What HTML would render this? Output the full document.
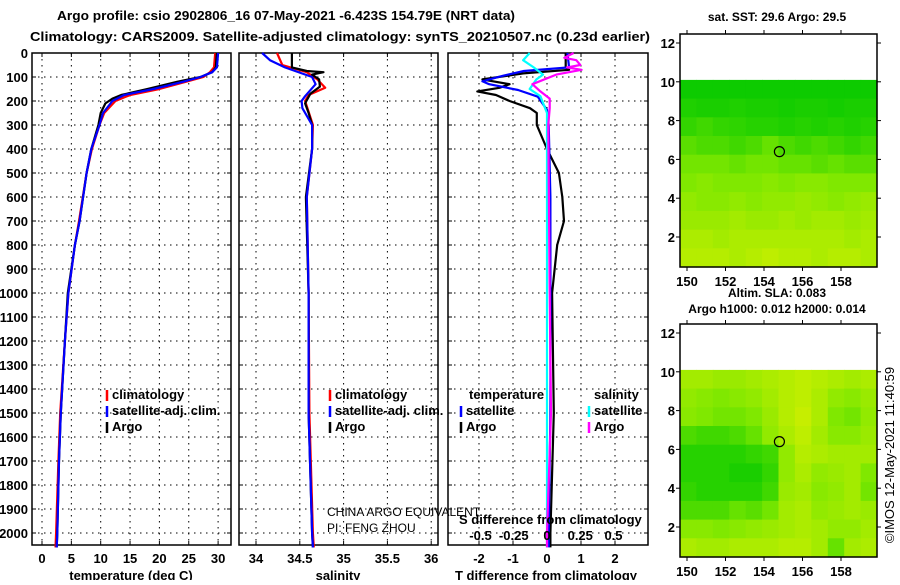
<!DOCTYPE html>
<html><head><meta charset="utf-8"><style>
body{margin:0;background:#fff;width:900px;height:580px;overflow:hidden}
svg{font-family:"Liberation Sans",sans-serif}
.b{font-weight:bold;font-size:13px}
</style></head><body>
<svg id="s" width="900" height="580" xmlns="http://www.w3.org/2000/svg">
<text class="b" x="57" y="20" font-size="15" textLength="458" lengthAdjust="spacingAndGlyphs">Argo profile: csio 2902806_16 07-May-2021 -6.423S 154.79E (NRT data)</text>
<text class="b" x="30" y="41" font-size="15" textLength="620" lengthAdjust="spacingAndGlyphs">Climatology: CARS2009. Satellite-adjusted climatology: synTS_20210507.nc (0.23d earlier)</text>
<g id="g"></g>
</svg>
<script>
// ---- data ----
const depthTicks=[0,100,200,300,400,500,600,700,800,900,1000,1100,1200,1300,1400,1500,1600,1700,1800,1900,2000];
const tempTicks=[0,5,10,15,20,25,30];
const salTicks=[34,34.5,35,35.5,36];
const salTickLabels=["34","34.5","35","35.5","36"];
const tdiffTicks=[-2,-1,0,1,2];
const sdiffTicks=[-0.5,-0.25,0,0.25,0.5];
const sdiffLabels=["-0.5","-0.25","0","0.25","0.5"];
const tArgoD=[0,60,80,100,120,150,175,190,210,250,300,400,500,700,800,1000,1200,1500,1700,2000,2060];
const tArgoV=[29.8,29.6,29,27,23,18,13.5,12,10.8,10,9.6,8.4,7.6,6.4,5.6,4.4,3.9,3.2,2.9,2.6,2.5];
const tClimD=[0,60,80,100,120,150,175,200,250,300,400,500,700,800,1000,1200,1500,1700,2000,2060];
const tClimV=[29.5,29.3,28.6,27.5,24.5,20,15,12.5,10.6,9.8,8.5,7.6,6.3,5.6,4.5,3.9,3.1,2.8,2.4,2.3];
const tSatD=[0,60,80,100,120,150,175,200,250,300,400,500,700,800,1000,1200,1500,1700,2000,2060];
const tSatV=[30,29.8,29,27,24,19,14,12,10.4,9.8,8.4,7.6,6.4,5.6,4.5,3.9,3.2,2.9,2.6,2.5];
const sArgoD=[0,60,75,80,90,110,140,170,210,250,300,400,600,1000,1500,2000,2060];
const sArgoV=[34.41,34.41,34.58,34.77,34.64,34.72,34.73,34.62,34.56,34.6,34.64,34.64,34.57,34.6,34.6,34.64,34.65];
const sClimD=[0,50,80,110,145,175,200,300,400,600,1000,1500,2000,2060];
const sClimV=[34.24,34.3,34.58,34.7,34.79,34.6,34.56,34.65,34.64,34.58,34.6,34.61,34.65,34.66];
const sSatD=[0,30,60,100,130,180,200,230,300,400,600,1000,1500,2000,2060];
const sSatV=[34.07,34.16,34.33,34.64,34.68,34.56,34.52,34.53,34.64,34.64,34.58,34.6,34.6,34.64,34.65];
const dtArgoD=[0,60,70,85,110,130,145,160,175,200,230,250,300,350,400,500,600,700,800,1000,1500,2000,2060];
const dtArgoV=[0.55,0.55,0.65,-0.7,-1.9,-1.1,-1.4,-2.05,-1.5,-1.1,-0.5,-0.3,-0.3,-0.15,0,0.35,0.45,0.5,0.3,0.15,0.2,0.1,0.1];
const dtSatD=[0,60,75,95,118,130,154,182,237,300,600,1000,1500,2000,2060];
const dtSatV=[0.6,0.65,-0.68,-1.3,-1.9,-1.7,-0.85,-0.27,0,0.05,0.1,0.1,0.1,0.05,0.05];
const dsSatD=[0,30,60,90,110,150,180,250,600,1000,1500,2000,2060];
const dsSatV=[-0.13,-0.18,-0.1,-0.03,-0.08,-0.13,-0.05,0,0,0,0,0,0];
const dsArgoD=[0,20,30,50,60,70,90,130,160,190,230,300,1000,1500,2000,2060];
const dsArgoV=[0.2,0.13,0.22,0.25,0.15,0.26,0.07,-0.11,-0.05,0.02,0.02,0.01,0.02,0.03,0,0];
const latTicks=[2,4,6,8,10,12];
const lonTicks=[150,152,154,156,158];
const sstGrid=[
[.05,.05,.05,.05,.05,.05,.05,.05,.05,.05,.05,.05],
[.12,.1,.1,.12,.1,.1,.08,.1,.1,.08,.1,.1],
[.2,.25,.2,.18,.15,.15,.12,.15,.12,.15,.12,.15],
[.35,.3,.3,.25,.3,.4,.3,.25,.3,.25,.2,.25],
[.45,.45,.45,.4,.45,.45,.4,.4,.35,.4,.35,.35],
[.5,.55,.5,.5,.5,.55,.5,.55,.55,.5,.5,.5],
[.6,.55,.55,.6,.55,.6,.6,.65,.6,.55,.6,.65],
[.65,.65,.65,.7,.65,.65,.7,.65,.7,.7,.65,.7],
[.75,.75,.7,.75,.75,.75,.75,.75,.75,.75,.7,.75],
[.8,.8,.8,.75,.8,.85,.8,.8,.75,.8,.8,.75]];
const slaGrid=[
[.7,.7,.65,.65,.7,.75,.8,.85,.8,.75,.7,.75],
[.6,.55,.5,.55,.6,.7,.8,.85,.75,.6,.55,.65],
[.55,.5,.45,.45,.5,.65,.8,.9,.75,.5,.45,.6],
[.3,.25,.25,.3,.4,.6,.75,.85,.7,.55,.55,.65],
[.15,.15,.15,.15,.2,.25,.6,.8,.75,.7,.7,.7],
[.15,.15,.15,.1,.1,.2,.6,.75,.6,.65,.7,.5],
[.2,.15,.15,.15,.15,.25,.65,.7,.55,.6,.7,.45],
[.3,.3,.3,.4,.35,.45,.7,.75,.6,.65,.7,.65],
[.55,.55,.5,.55,.6,.65,.7,.75,.7,.6,.6,.7],
[.75,.7,.7,.75,.75,.75,.8,.8,.7,.4,.7,.75]];
const argoLon=154.8, argoLat=6.4;

// ---- helpers ----
const NS="http://www.w3.org/2000/svg", G=document.getElementById('g');
function mk(tag,at,parent){const e=document.createElementNS(NS,tag);for(const k in at)e.setAttribute(k,at[k]);(parent||G).appendChild(e);return e;}
function txt(x,y,s,cls,anchor,size,weight){const e=mk('text',{x:x,y:y,'text-anchor':anchor||'start','font-size':size||13,'font-weight':weight||'bold'});e.textContent=s;return e;}
const TOP=53, PB=545;
const yD=d=>TOP+d*0.24;
function panel(name,x0,x1,xs,ticks,labels,grid){
  const r=mk('rect',{x:x0,y:TOP,width:x1-x0,height:PB-TOP,fill:'none',stroke:'#000','stroke-width':1.5});
  
  
  ticks.forEach((t,i)=>{const x=xs(t);
    if(grid)mk('line',{x1:x,x2:x,y1:TOP,y2:PB,stroke:'#000','stroke-dasharray':'1.5,4.5','stroke-width':1});
    mk('line',{x1:x,x2:x,y1:PB,y2:PB-4,stroke:'#000'});mk('line',{x1:x,x2:x,y1:TOP,y2:TOP+4,stroke:'#000'});
    const l=txt(x,563,labels[i],'','middle');
    
    
  });
  depthTicks.forEach(d=>{const y=yD(d);
    mk('line',{x1:x0,x2:x1,y1:y,y2:y,stroke:'#000','stroke-dasharray':'1.5,4.5','stroke-width':1});
    mk('line',{x1:x0,x2:x0+4,y1:y,y2:y,stroke:'#000'});mk('line',{x1:x1,x2:x1-4,y1:y,y2:y,stroke:'#000'});
  });
}
function line(name,xs,D,V,col){
  const p=D.map((d,i)=>xs(V[i]).toFixed(1)+','+yD(d).toFixed(1)).join(' ');
  const e=mk('polyline',{points:p,fill:'none',stroke:col,'stroke-width':2.2,'stroke-linejoin':'round'});
  
  
}
function legend(x,y,col,s,name){
  mk('line',{x1:x,x2:x,y1:y-9,y2:y+2,stroke:col,'stroke-width':2.5});
  const t=txt(x+5,y,s);
  
  
}
// ---- panel 1 temperature ----
const xT=v=>42+v*5.87;
panel('temperature-panel',32,231,xT,tempTicks,tempTicks.map(String),true);
depthTicks.forEach(d=>{const t=txt(28,yD(d)+5,String(d),'','end');
  
  });
line('temp-climatology-line',xT,tClimD,tClimV,'#f00');
line('temp-argo-line',xT,tArgoD,tArgoV,'#000');
line('temp-satellite-line',xT,tSatD,tSatV,'#00f');
legend(107,399,'#f00','climatology','legend-climatology');
legend(107,415,'#00f','satellite-adj. clim.','legend-satellite-adj');
legend(107,431,'#000','Argo','legend-argo');
let t=txt(131,580,'temperature (deg C)','','middle');
// ---- panel 2 salinity ----
const xS=v=>256+(v-34)*87.6;
panel('salinity-panel',239,438,xS,salTicks,salTickLabels,true);
line('sal-climatology-line',xS,sClimD,sClimV,'#f00');
line('sal-argo-line',xS,sArgoD,sArgoV,'#000');
line('sal-satellite-line',xS,sSatD,sSatV,'#00f');
legend(330,399,'#f00','climatology','legend-sal-climatology');
legend(330,415,'#00f','satellite-adj. clim.','legend-sal-satellite-adj');
legend(330,431,'#000','Argo','legend-sal-argo');
t=txt(327,516,'CHINA ARGO EQUIVALENT','','start',12,'normal');
t=txt(327,532,'PI: FENG ZHOU','','start',12,'normal');
t=txt(338,580,'salinity','','middle');
// ---- panel 3 differences ----
const xDT=v=>547+v*34, xDS=v=>547+v*133;
panel('difference-panel',448,648,xDT,tdiffTicks,tdiffTicks.map(String),true);
line('tdiff-argo-line',xDT,dtArgoD,dtArgoV,'#000');
line('tdiff-satellite-line',xDT,dtSatD,dtSatV,'#00f');
line('sdiff-satellite-line',xDS,dsSatD,dsSatV,'#0ff');
line('sdiff-argo-line',xDS,dsArgoD,dsArgoV,'#f0f');
t=txt(469,399,'temperature');
t=txt(594,399,'salinity');
legend(461,415,'#00f','satellite','legend-t-satellite');
legend(461,431,'#000','Argo','legend-t-argo');
legend(589,415,'#0ff','satellite','legend-s-satellite');
legend(589,431,'#f0f','Argo','legend-s-argo');
t=txt(459,524,'S difference from climatology');
sdiffTicks.forEach((v,i)=>{const l=txt(xDS(v),540,sdiffLabels[i],'','middle');
  
  });
t=txt(546,580,'T difference from climatology','','middle');
// ---- maps ----
function ramp(v){const a=[[0,200,0],[128,232,0],[216,240,0]];
  const s=v<.5?v/.5:(v-.5)/.5,p=v<.5?a[0]:a[1],q=v<.5?a[1]:a[2];
  return 'rgb('+p.map((c,i)=>Math.round(c+(q[i]-c)*s)).join(',')+')';}
function map(name,top,grid,title){
  const x0=680,x1=877,bot=top+233;
  const lonX=l=>687+(l-150)*19.25, latY=a=>top+9+(12-a)*19.4;
  const cTop=latY(10.1), nr=grid.length, nc=grid[0].length, ch=(bot-cTop)/nr, cw=(x1-x0)/nc;
  grid.forEach((row,r)=>row.forEach((v,c)=>{
    const e=mk('rect',{x:(x0+c*cw).toFixed(1),y:(cTop+r*ch).toFixed(1),width:(cw+0.6).toFixed(1),height:(ch+0.6).toFixed(1),fill:ramp(v)});
    
    
  }));
  const f=mk('rect',{x:x0,y:top,width:x1-x0,height:bot-top,fill:'none',stroke:'#000','stroke-width':1.5});
  
  
  latTicks.forEach(a=>{const y=latY(a);mk('line',{x1:x0,x2:x0-4,y1:y,y2:y,stroke:'#000'});mk('line',{x1:x1,x2:x1+4,y1:y,y2:y,stroke:'#000'});
    const l=txt(675,y+5,String(a),'','end');});
  lonTicks.forEach(l=>{const x=lonX(l);mk('line',{x1:x,x2:x,y1:bot,y2:bot+4,stroke:'#000'});mk('line',{x1:x,x2:x,y1:top,y2:top-4,stroke:'#000'});
    const e=txt(x,bot+19,String(l),'','middle');});
  const c=mk('circle',{cx:lonX(argoLon),cy:latY(argoLat),r:5,fill:'none',stroke:'#000','stroke-width':1.2});
  
  
}
map('sst-map',34,sstGrid);
map('sla-map',324,slaGrid);
t=txt(777,21,'sat. SST: 29.6 Argo: 29.5','','middle',12);
t=txt(777,297,'Altim. SLA: 0.083','','middle',12);
t=txt(777,313,'Argo h1000: 0.012 h2000: 0.014','','middle',12);
t=txt(0,0,'©IMOS 12-May-2021 11:40:59','','middle',13,'normal');t.setAttribute('transform','translate(894,455) rotate(-90)');

</script>
</body></html>
